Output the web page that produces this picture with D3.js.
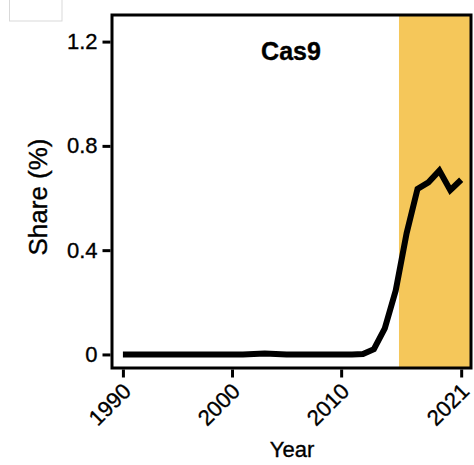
<!DOCTYPE html>
<html>
<head>
<meta charset="utf-8">
<script src="https://cdn.jsdelivr.net/npm/d3@7"></script>
<style>
  html, body { margin: 0; padding: 0; background: #fff; }
  svg { display: block; font-family: "Liberation Sans", Arial, sans-serif; }
  svg text { fill: #000; stroke: #000; stroke-width: 0.35px; }
</style>
</head>
<body>
<svg id="chart" width="474" height="465"></svg>
<script>
// Yearly share of publications mentioning Cas9
const years = d3.range(1990, 2022);
const share = [
  0, 0, 0, 0, 0, 0, 0, 0, 0, 0,
  0, 0, 0.002, 0.004, 0.002, 0, 0, 0, 0, 0,
  0, 0, 0.002, 0.02, 0.1, 0.245, 0.465, 0.635, 0.66, 0.705,
  0.63, 0.67
];
const xTicks = [1990, 2000, 2010, 2021];
const yTicks = [0, 0.4, 0.8, 1.2];
const yTickLabels = ["0", "0.4", "0.8", "1.2"];
const highlightStart = 2015.3;
const title = "Cas9";

const svg = d3.select("#chart");
const plot = { left: 112, right: 471, top: 15, bottom: 368 };

const x = d3.scaleLinear().domain([1989, 2021.9]).range([plot.left, plot.right]);
const y = d3.scaleLinear().domain([-0.052, 1.302]).range([plot.bottom, plot.top]);

// small empty box in the corner
svg.append("rect")
  .attr("x", 9.5).attr("y", -1).attr("width", 52.5).attr("height", 22)
  .attr("fill", "#fff").attr("stroke", "#d9d9d9").attr("stroke-width", 1);

// highlighted period
svg.append("rect")
  .attr("x", x(highlightStart)).attr("y", plot.top)
  .attr("width", plot.right - x(highlightStart))
  .attr("height", plot.bottom - plot.top)
  .attr("fill", "#F5C75A");

// share line
const line = d3.line().x((d, i) => x(years[i])).y(d => y(d));
svg.append("path")
  .datum(share)
  .attr("d", line)
  .attr("fill", "none")
  .attr("stroke", "#000")
  .attr("stroke-width", 6)
  .attr("stroke-linejoin", "miter");

// frame
svg.append("rect")
  .attr("x", plot.left).attr("y", plot.top)
  .attr("width", plot.right - plot.left).attr("height", plot.bottom - plot.top)
  .attr("fill", "none").attr("stroke", "#000").attr("stroke-width", 3);

// y axis
const yAxis = svg.append("g")
  .attr("transform", `translate(${plot.left - 1.5},0)`)
  .call(d3.axisLeft(y).tickValues(yTicks).tickSize(8).tickPadding(5)
    .tickFormat((d, i) => yTickLabels[i]));
yAxis.select(".domain").remove();
yAxis.selectAll(".tick line").attr("stroke", "#000").attr("stroke-width", 3);
yAxis.selectAll(".tick text")
  .attr("font-size", 22)
  .attr("font-family", "Liberation Sans, Arial, sans-serif");

// x axis
const xAxis = svg.append("g")
  .attr("transform", `translate(0,${plot.bottom + 1.5})`)
  .call(d3.axisBottom(x).tickValues(xTicks).tickSize(8).tickFormat(d3.format("d")));
xAxis.select(".domain").remove();
xAxis.selectAll(".tick line").attr("stroke", "#000").attr("stroke-width", 3);
xAxis.selectAll(".tick text")
  .attr("font-size", 22)
  .attr("font-family", "Liberation Sans, Arial, sans-serif")
  .attr("text-anchor", "end")
  .attr("x", 0).attr("y", 0).attr("dy", 0)
  .attr("transform", "translate(9,23) rotate(-45)");

// title
svg.append("text")
  .attr("x", 291).attr("y", 60)
  .attr("text-anchor", "middle")
  .attr("font-size", 25).attr("font-weight", "bold")
  .text(title);

// axis titles
svg.append("text")
  .attr("x", 292).attr("y", 457)
  .attr("text-anchor", "middle")
  .attr("font-size", 22)
  .text("Year");

svg.append("text")
  .attr("transform", "translate(47,197) rotate(-90)")
  .attr("text-anchor", "middle")
  .attr("font-size", 26)
  .text("Share (%)");
</script>
</body>
</html>
